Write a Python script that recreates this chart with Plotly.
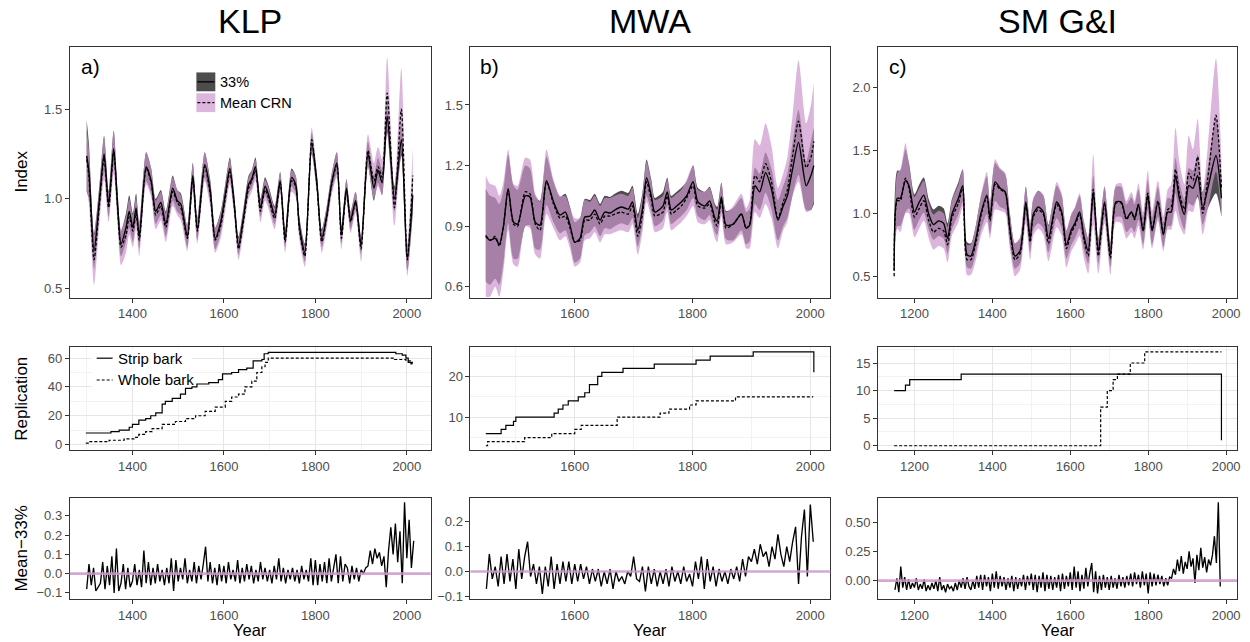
import plotly.graph_objects as go

# ---------------- DATA ----------------
# Panel a (KLP) smoothed index
ya = [1300,1305,1316,1328,1338,1348,1359,1368,1375,1386,
      1393,1401,1408,1415,1430,1441,1451,1462,1473,1488,
      1498,1506,1520,1532,1542,1558,1570,1581,1593,1604,
      1613,1622,1632,1643,1654,1661,1669,1680,1690,1698,
      1711,1723,1734,1748,1757,1765,1777,1792,1803,1814,
      1825,1835,1847,1857,1868,1877,1888,1900,1915,1928,
      1937,1946,1957,1973,1988,2001,2013]
a33 = [1.24,1.15,0.71,1.00,1.25,0.97,1.28,0.95,0.75,0.84,
       0.93,0.84,0.95,0.79,1.18,1.10,0.93,0.98,0.86,1.06,
       0.99,0.97,0.79,1.13,0.83,1.19,1.05,0.78,0.87,1.04,
       1.17,0.99,0.74,0.90,1.08,1.11,1.18,0.95,1.07,1.02,
       0.91,1.10,0.78,1.12,1.08,0.85,0.70,1.31,1.10,0.78,
       0.91,1.08,1.20,0.80,1.06,0.88,0.99,0.74,1.25,1.06,
       1.16,1.09,1.46,1.00,1.33,0.67,1.02]
amean = [1.22,1.12,0.66,0.97,1.23,0.95,1.26,0.93,0.73,0.80,
         0.90,0.82,0.92,0.77,1.17,1.09,0.91,0.96,0.84,1.04,
         0.98,0.95,0.78,1.12,0.82,1.18,1.03,0.77,0.85,1.02,
         1.15,0.98,0.72,0.88,1.06,1.10,1.16,0.93,1.05,1.00,
         0.89,1.09,0.76,1.10,1.07,0.83,0.68,1.33,1.09,0.76,
         0.90,1.07,1.19,0.78,1.05,0.87,0.98,0.72,1.27,1.10,
         1.18,1.12,1.59,0.95,1.50,0.66,1.13]
aw33 = [0.20,0.15,0.10,0.08,0.10,0.07,0.10,0.07,0.07,0.08,
        0.09,0.08,0.08,0.07,0.08,0.07,0.07,0.07,0.07,0.07,
        0.06,0.06,0.06,0.07,0.06,0.07,0.06,0.06,0.06,0.06,
        0.06,0.05,0.05,0.05,0.05,0.05,0.05,0.05,0.05,0.05,
        0.05,0.05,0.05,0.05,0.05,0.05,0.05,0.06,0.05,0.05,
        0.05,0.05,0.06,0.05,0.05,0.05,0.05,0.05,0.07,0.07,
        0.07,0.07,0.09,0.07,0.09,0.07,0.10]
awM = [0.17,0.15,0.14,0.10,0.12,0.08,0.12,0.09,0.10,0.10,
       0.10,0.09,0.09,0.09,0.09,0.08,0.08,0.08,0.08,0.08,
       0.07,0.07,0.07,0.08,0.07,0.08,0.07,0.07,0.07,0.07,
       0.07,0.06,0.06,0.06,0.06,0.06,0.06,0.06,0.06,0.06,
       0.06,0.06,0.06,0.06,0.06,0.06,0.06,0.07,0.06,0.06,
       0.06,0.06,0.07,0.06,0.06,0.06,0.06,0.07,0.09,0.10,
       0.11,0.10,0.20,0.10,0.23,0.09,0.16]

# Panel b (MWA)
yb = [1449,1456,1465,1472,1479,1487,1496,1503,1516,1524,
      1533,1541,1552,1564,1575,1584,1592,1600,1609,1617,
      1626,1634,1643,1651,1660,1668,1679,1691,1698,1707,
      1715,1722,1730,1736,1745,1750,1757,1764,1773,1781,
      1790,1801,1809,1821,1829,1838,1842,1849,1857,1869,
      1883,1891,1897,1906,1914,1924,1934,1945,1954,1961,
      1970,1980,1993,2001,2006]
b33 = [0.855,0.83,0.84,0.81,0.90,1.085,0.92,0.91,1.05,1.045,
       0.92,0.905,1.125,1.02,0.955,0.97,0.905,0.82,0.84,0.945,
       0.95,0.98,0.93,0.97,0.965,0.98,0.995,0.985,1.02,0.88,
       0.985,1.14,1.05,0.97,0.985,1.00,1.07,0.98,1.00,1.02,
       1.05,1.12,1.02,1.00,1.025,0.94,0.925,1.045,0.905,0.91,
       0.96,0.89,0.905,1.10,1.07,1.165,1.085,0.93,1.00,1.05,
       1.185,1.315,1.10,1.15,1.20]
bmean = [0.85,0.83,0.85,0.80,0.90,1.08,0.91,0.90,1.07,1.06,
         0.91,0.88,1.12,1.01,0.94,0.95,0.89,0.82,0.83,0.93,
         0.93,0.96,0.91,0.95,0.95,0.96,0.97,0.96,1.00,0.85,
         0.96,1.12,1.03,0.95,0.96,0.97,1.05,0.96,0.98,1.00,
         1.04,1.10,1.00,0.99,1.01,0.92,0.90,1.03,0.89,0.91,
         0.96,0.89,0.91,1.15,1.12,1.21,1.12,0.94,1.02,1.08,
         1.25,1.42,1.19,1.24,1.32]
bw33 = [0.23,0.22,0.20,0.20,0.18,0.17,0.18,0.17,0.15,0.14,
        0.13,0.12,0.12,0.10,0.09,0.09,0.09,0.10,0.10,0.09,
        0.08,0.08,0.08,0.08,0.08,0.08,0.08,0.08,0.08,0.08,
        0.08,0.09,0.08,0.07,0.07,0.07,0.07,0.07,0.07,0.07,
        0.07,0.08,0.07,0.07,0.07,0.07,0.07,0.07,0.07,0.08,
        0.08,0.08,0.08,0.09,0.09,0.10,0.10,0.10,0.10,0.11,
        0.13,0.16,0.12,0.17,0.19]
bwM = [0.30,0.28,0.25,0.25,0.22,0.20,0.20,0.20,0.17,0.17,
       0.15,0.14,0.16,0.12,0.11,0.10,0.10,0.12,0.11,0.10,
       0.09,0.09,0.09,0.09,0.09,0.09,0.09,0.09,0.09,0.09,
       0.09,0.10,0.09,0.08,0.08,0.08,0.08,0.08,0.08,0.08,
       0.09,0.10,0.08,0.08,0.08,0.08,0.08,0.08,0.08,0.09,
       0.10,0.10,0.12,0.18,0.18,0.20,0.18,0.15,0.14,0.16,
       0.20,0.30,0.22,0.26,0.29]

# Panel c (SM G&I)
yc = [1148,1156,1164,1177,1186,1200,1211,1224,1237,1249,
      1262,1275,1285,1296,1313,1324,1335,1345,1358,1370,
      1386,1394,1407,1420,1433,1445,1458,1471,1486,1497,
      1505,1518,1531,1544,1565,1578,1590,1603,1612,1624,
      1635,1646,1659,1672,1688,1703,1717,1731,1744,1757,
      1765,1775,1787,1799,1810,1825,1839,1850,1859,1870,
      1880,1893,1904,1915,1927,1940,1953,1974,1988]
c33 = [0.55,1.12,1.12,1.26,1.22,1.01,1.08,1.145,0.99,0.91,
       0.94,0.92,0.80,0.99,1.12,1.22,0.67,0.66,0.80,0.99,
       1.145,0.96,1.25,1.20,1.17,0.88,0.66,0.70,1.09,0.80,
       0.99,1.05,1.01,0.80,1.09,1.01,0.75,0.87,0.92,1.01,
       0.82,0.70,1.17,0.70,1.09,0.67,1.09,1.09,0.96,1.01,
       0.96,1.07,0.86,1.145,0.86,1.09,0.83,1.01,1.01,1.30,
       1.12,0.99,1.22,1.20,1.30,1.04,1.20,1.46,1.12]
cmean = [0.50,1.10,1.10,1.28,1.20,0.97,1.03,1.10,0.94,0.85,
         0.88,0.86,0.75,0.96,1.08,1.20,0.63,0.63,0.77,0.97,
         1.13,0.94,1.23,1.19,1.16,0.86,0.63,0.68,1.07,0.77,
         0.97,1.03,0.99,0.76,1.07,0.99,0.72,0.85,0.90,0.99,
         0.79,0.66,1.19,0.66,1.07,0.64,1.08,1.08,0.95,1.01,
         0.95,1.07,0.86,1.16,0.87,1.10,0.84,1.03,1.05,1.35,
         1.16,1.03,1.32,1.26,1.45,1.00,1.28,1.78,1.20]
cw33 = [0.05,0.22,0.22,0.25,0.18,0.14,0.14,0.14,0.12,0.12,
        0.12,0.12,0.12,0.12,0.13,0.13,0.10,0.10,0.11,0.13,
        0.15,0.12,0.15,0.15,0.14,0.12,0.10,0.10,0.12,0.11,
        0.12,0.13,0.13,0.11,0.13,0.13,0.11,0.12,0.12,0.13,
        0.11,0.10,0.13,0.10,0.12,0.10,0.12,0.12,0.11,0.12,
        0.11,0.12,0.11,0.12,0.11,0.12,0.10,0.11,0.11,0.14,
        0.13,0.12,0.14,0.14,0.17,0.13,0.16,0.30,0.15]
cwM = [0.05,0.22,0.25,0.28,0.20,0.16,0.16,0.16,0.14,0.14,
       0.14,0.14,0.14,0.14,0.15,0.15,0.12,0.12,0.14,0.16,
       0.20,0.14,0.20,0.17,0.16,0.14,0.13,0.13,0.15,0.14,
       0.15,0.15,0.16,0.14,0.18,0.17,0.15,0.15,0.15,0.17,
       0.15,0.14,0.28,0.14,0.15,0.13,0.15,0.16,0.15,0.16,
       0.15,0.17,0.15,0.18,0.15,0.16,0.14,0.16,0.18,0.33,
       0.25,0.20,0.30,0.25,0.30,0.17,0.25,0.45,0.22]

# Replication (step changes)
rep_a_strip_yr = [1298,1353,1371,1393,1400,1414,1429,1440,1451,1465,1472,1487,1505,1516,1530,1541,1567,1588,1597,1617,1632,1650,1664,1683,1688,1697,1940,1976,1990,1998,2003,2012]
rep_a_strip = [8,9,10,12,14,17,18,20,22,28,30,32,35,39,40,42,43,45,49,50,52,53,58,59,63,64,64,63,62,60,57,56]
rep_a_whole_yr = [1298,1305,1349,1382,1407,1414,1429,1443,1465,1494,1516,1538,1559,1581,1603,1617,1632,1646,1661,1672,1683,1690,1697,1973,1998,2009,2012]
rep_a_whole = [1,2,3,4,5,7,9,11,14,16,18,20,23,26,30,33,35,40,44,50,54,57,60,59,58,56,56]
rep_b_strip_yr = [1449,1475,1483,1496,1500,1565,1572,1580,1589,1606,1617,1625,1639,1646,1682,1735,1806,1830,1903,2005,2006]
rep_b_strip = [6,7,8,9,10,11,12,13,14,15,16,18,20,21,22,23,24,25,26,26,21]
rep_b_whole_yr = [1449,1452,1515,1561,1600,1611,1672,1745,1760,1795,1806,1873,2005]
rep_b_whole = [3,4,5,6,7,8,10,11,12,13,14,15,15]
rep_c_strip_yr = [1148,1177,1188,1320,1983,1988]
rep_c_strip = [10,11,12,13,13,1]
rep_c_whole_yr = [1148,1678,1695,1710,1721,1754,1791,1988]
rep_c_whole = [0,7,10,12,13,15,17,17]

# Mean - 33% differences (every 5 years)
da_start, db_start, dc_start = 1300, 1450, 1150
da = [-0.08,0.05,-0.06,0.03,-0.09,-0.07,-0.05,0.06,-0.08,0.04,
      -0.06,0.09,-0.10,0.13,-0.09,-0.05,0.05,-0.08,0.03,-0.07,
      -0.04,0.05,-0.06,0.02,-0.07,0.12,-0.05,0.06,-0.06,0.03,
      -0.05,0.05,-0.04,0.02,-0.06,0.03,-0.05,0.08,-0.09,0.07,
      -0.04,0.03,-0.03,0.08,-0.05,0.02,-0.04,0.06,-0.05,0.04,
      -0.03,0.05,0.14,-0.04,0.06,-0.05,0.03,-0.06,0.05,-0.04,
      0.04,-0.05,0.06,-0.03,0.02,-0.04,0.07,-0.05,0.03,-0.04,
      0.05,-0.03,0.04,-0.05,0.02,-0.04,0.06,-0.03,0.03,-0.04,
      0.02,-0.05,0.04,-0.03,0.08,-0.04,0.03,-0.05,0.02,-0.03,
      0.03,-0.04,0.02,-0.05,0.04,-0.03,0.02,-0.04,0.08,-0.06,
      0.07,-0.06,0.05,-0.04,0.06,-0.05,0.08,-0.04,0.03,0.10,
      -0.05,0.09,-0.04,0.05,0.03,-0.05,0.04,-0.03,0.03,-0.04,
      0.02,0.00,0.03,0.04,0.12,0.05,0.13,0.08,0.11,0.04,
      0.09,-0.07,0.12,0.24,0.10,0.26,0.06,0.22,-0.05,0.37,
      0.08,0.28,0.03,0.17]
db = [-0.07,0.07,-0.03,0.02,-0.06,0.06,-0.05,0.07,-0.04,0.05,
      -0.07,0.09,-0.03,0.06,0.12,-0.02,0.03,-0.05,0.02,-0.09,
      0.02,-0.06,0.06,-0.07,0.03,-0.05,0.04,-0.04,0.04,-0.05,
      0.03,-0.04,0.03,-0.03,0.02,-0.05,0.01,-0.04,0.01,-0.06,
      0.00,-0.05,0.01,-0.07,0.00,-0.04,-0.02,-0.05,0.00,-0.02,
      0.06,-0.03,-0.04,0.02,-0.08,0.02,-0.05,0.01,-0.06,0.00,
      -0.05,0.01,-0.06,0.02,-0.04,0.00,-0.05,0.02,-0.04,-0.01,
      -0.06,0.04,-0.03,0.06,-0.07,0.05,-0.04,0.02,-0.06,0.01,
      -0.04,0.00,-0.05,0.01,-0.03,0.02,-0.04,0.05,-0.02,0.06,
      0.04,0.09,0.03,0.11,0.06,0.08,0.02,0.10,0.05,0.15,
      0.07,0.02,0.10,0.04,0.12,0.18,-0.05,0.14,0.25,-0.02,
      0.27,0.12]
dc = [-0.08,0.02,-0.10,0.12,-0.06,0.03,-0.08,0.01,-0.07,-0.02,
      -0.06,0.02,-0.08,-0.03,-0.07,0.01,-0.09,-0.04,-0.08,-0.02,
      -0.07,0.00,-0.09,0.03,-0.08,-0.04,-0.10,-0.03,-0.07,-0.05,
      -0.09,-0.02,-0.08,0.00,-0.06,0.02,-0.07,0.03,-0.05,-0.08,
      0.00,-0.07,0.04,-0.06,0.05,-0.08,0.05,-0.05,0.03,-0.09,
      0.06,-0.06,0.08,-0.07,0.04,-0.05,0.03,-0.08,0.02,-0.06,
      0.04,-0.09,0.03,-0.07,0.02,-0.05,0.05,-0.08,0.04,-0.04,
      0.06,-0.08,0.05,-0.10,0.04,-0.06,0.07,-0.09,0.05,-0.07,
      0.04,-0.08,0.03,-0.06,0.05,-0.09,0.06,-0.07,0.04,-0.05,
      0.07,-0.08,0.12,-0.06,0.08,-0.09,0.05,-0.07,0.11,-0.05,
      0.06,0.15,-0.10,0.08,-0.11,0.04,-0.08,0.05,-0.06,0.03,
      -0.08,0.04,-0.06,0.02,-0.07,0.05,-0.05,0.03,-0.06,0.04,
      -0.04,0.06,-0.05,0.07,-0.03,0.05,-0.06,0.08,-0.04,0.06,
      -0.11,0.07,-0.05,0.06,-0.04,0.05,-0.03,0.04,-0.05,0.02,
      -0.04,0.03,0.02,0.10,0.05,0.18,0.08,0.21,0.06,0.16,
      0.10,0.25,0.12,0.19,-0.02,0.22,0.09,0.28,0.11,0.20,
      0.07,0.18,0.13,0.22,0.38,0.15,0.67,-0.05]

titles = ["KLP", "MWA", "SM G&I"]
letters = ["a)", "b)", "c)"]

# ---------------- STYLE ----------------
W, H = 1250, 642
FONT = "Liberation Sans, Arial, Helvetica, sans-serif"
GRAY = "#4d4d4d"
PINK = "rgba(205,150,205,0.7)"
PINK_KEY = "#dcb6dc"
ZLINE = "rgba(205,150,205,0.85)"
BORDER = "#333333"

xdom = [(70/W, 432/W), (472/W, 833/W), (881/W, 1241/W)]
ydom = [(1-300/H, 1-47/H), (1-454/H, 1-350/H), (1-604/H, 1-502/H)]
xranges = [[1263, 2052], [1423, 2034], [1107, 2028]]
xticks = [[1400, 1600, 1800, 2000], [1600, 1800, 2000], [1200, 1400, 1600, 1800, 2000]]
xminor = [[1300, 1500, 1700, 1900], [1500, 1700, 1900], [1100, 1300, 1500, 1700, 1900]]
yranges = [[[0.449, 1.849], [0.546, 1.789], [0.329, 2.326]],
           [[-4.1, 67.5], [1.85, 27.15], [-0.85, 17.85]],
           [[-0.133, 0.392], [-0.112, 0.296], [-0.16, 0.706]]]
yticks = [[([0.5, 1.0, 1.5], ["0.5", "1.0", "1.5"]),
           ([0.6, 0.9, 1.2, 1.5], ["0.6", "0.9", "1.2", "1.5"]),
           ([0.5, 1.0, 1.5, 2.0], ["0.5", "1.0", "1.5", "2.0"])],
          [([0, 20, 40, 60], ["0", "20", "40", "60"]),
           ([10, 20], ["10", "20"]),
           ([0, 5, 10, 15], ["0", "5", "10", "15"])],
          [([-0.1, 0, 0.1, 0.2, 0.3], ["\u22120.1", "0.0", "0.1", "0.2", "0.3"]),
           ([-0.1, 0, 0.1, 0.2], ["\u22120.1", "0.0", "0.1", "0.2"]),
           ([0, 0.25, 0.5], ["0.00", "0.25", "0.50"])]]
yminor = [[10, 30, 50], [5, 15, 25], [2.5, 7.5, 12.5, 17.5]]

fig = go.Figure()

def names(r, c):
    i = r * 3 + c + 1
    return ("x" if i == 1 else f"x{i}"), ("y" if i == 1 else f"y{i}"), i

def add_ribbon(xa, yax, yrs, ctr, hw, color):
    lo = [m - w for m, w in zip(ctr, hw)]
    hi = [m + w for m, w in zip(ctr, hw)]
    fig.add_trace(go.Scatter(x=yrs, y=lo, xaxis=xa, yaxis=yax, mode="lines",
                             line=dict(width=0, shape="spline", smoothing=0.7),
                             showlegend=False, hoverinfo="skip"))
    fig.add_trace(go.Scatter(x=yrs, y=hi, xaxis=xa, yaxis=yax, mode="lines",
                             line=dict(width=0, shape="spline", smoothing=0.7),
                             fill="tonexty", fillcolor=color,
                             showlegend=False, hoverinfo="skip"))

top = [(ya, a33, amean, aw33, awM), (yb, b33, bmean, bw33, bwM), (yc, c33, cmean, cw33, cwM)]
for c, (yrs, s33, mn, w33, wM) in enumerate(top):
    xa, yax, _ = names(0, c)
    add_ribbon(xa, yax, yrs, s33, w33, GRAY)
    add_ribbon(xa, yax, yrs, mn, wM, PINK)
    fig.add_trace(go.Scatter(x=yrs, y=mn, xaxis=xa, yaxis=yax, mode="lines",
                             line=dict(color="black", width=1.3, dash="3px,2px",
                                       shape="spline", smoothing=0.7),
                             showlegend=False))
    fig.add_trace(go.Scatter(x=yrs, y=s33, xaxis=xa, yaxis=yax, mode="lines",
                             line=dict(color="black", width=1.4, shape="spline", smoothing=0.7),
                             showlegend=False))

reps = [(rep_a_strip_yr, rep_a_strip, rep_a_whole_yr, rep_a_whole),
        (rep_b_strip_yr, rep_b_strip, rep_b_whole_yr, rep_b_whole),
        (rep_c_strip_yr, rep_c_strip, rep_c_whole_yr, rep_c_whole)]
for c, (sx, sy, wx, wy) in enumerate(reps):
    xa, yax, _ = names(1, c)
    fig.add_trace(go.Scatter(x=wx, y=wy, xaxis=xa, yaxis=yax, mode="lines",
                             line=dict(color="black", width=1.2, dash="3px,2px", shape="hv"),
                             showlegend=False))
    fig.add_trace(go.Scatter(x=sx, y=sy, xaxis=xa, yaxis=yax, mode="lines",
                             line=dict(color="black", width=1.2, shape="hv"),
                             showlegend=False))

diffs = [(da_start, da), (db_start, db), (dc_start, dc)]
for c, (start, vals) in enumerate(diffs):
    xa, yax, _ = names(2, c)
    yrs = list(range(start, start + 5 * len(vals), 5))
    fig.add_trace(go.Scatter(x=yrs, y=vals, xaxis=xa, yaxis=yax, mode="lines",
                             line=dict(color="black", width=1.35), showlegend=False))

layout = dict(width=W, height=H, margin=dict(l=0, r=0, t=0, b=0),
              paper_bgcolor="white", plot_bgcolor="white", showlegend=False,
              font=dict(family=FONT, color="black"))
shapes = []
for r in range(3):
    for c in range(3):
        xa, yax, i = names(r, c)
        key = "" if i == 1 else str(i)
        grid = (r == 1)
        xd = dict(domain=list(xdom[c]), anchor=yax, range=xranges[c],
                  tickvals=xticks[c], ticktext=[str(v) for v in xticks[c]],
                  showline=True, mirror=True, linecolor=BORDER, linewidth=1,
                  ticks="outside", ticklen=4, tickcolor=BORDER,
                  tickfont=dict(family=FONT, size=13, color="#4d4d4d"),
                  showgrid=grid, gridcolor="#e6e6e6", gridwidth=1, zeroline=False)
        if grid:
            xd["minor"] = dict(tickvals=xminor[c], showgrid=True, gridcolor="#f2f2f2", ticks="")
        tv, tt = yticks[r][c]
        yd = dict(domain=list(ydom[r]), anchor=xa, range=yranges[r][c],
                  tickvals=tv, ticktext=tt,
                  showline=True, mirror=True, linecolor=BORDER, linewidth=1,
                  ticks="outside", ticklen=4, tickcolor=BORDER,
                  tickfont=dict(family=FONT, size=13, color="#4d4d4d"),
                  showgrid=grid, gridcolor="#e6e6e6", gridwidth=1, zeroline=False)
        if grid:
            yd["minor"] = dict(tickvals=yminor[c], showgrid=True, gridcolor="#f2f2f2", ticks="")
        layout["xaxis" + key] = xd
        layout["yaxis" + key] = yd
        if r == 2:
            shapes.append(dict(type="line", xref=f"{xa} domain", x0=0, x1=1,
                               yref=yax, y0=0, y1=0,
                               line=dict(color=ZLINE, width=2.6), layer="above"))

def px(x):
    return x / W

def py(y):
    return 1 - y / H

annotations = []
centers = [251, 652.5, 1061]
letter_x = [79, 480, 890]
for c in range(3):
    annotations.append(dict(text=titles[c], x=px(centers[c]), y=py(21), xref="paper", yref="paper",
                            showarrow=False, xanchor="center", yanchor="middle",
                            font=dict(family=FONT, size=34, color="black")))
    annotations.append(dict(text=letters[c], x=px(letter_x[c]), y=py(67), xref="paper", yref="paper",
                            showarrow=False, xanchor="left", yanchor="middle",
                            font=dict(family=FONT, size=21, color="black")))
    annotations.append(dict(text="Year", x=px(centers[c]), y=py(635), xref="paper", yref="paper",
                            showarrow=False, xanchor="center", yanchor="middle",
                            font=dict(family=FONT, size=16.5, color="black")))
for txt, yc_ in [("Index", 173), ("Replication", 402), ("Mean\u221233%", 553)]:
    annotations.append(dict(text=txt, x=px(22), y=py(yc_), xref="paper", yref="paper",
                            showarrow=False, textangle=-90, xanchor="center", yanchor="middle",
                            font=dict(family=FONT, size=17, color="black")))

# legend for top-left panel
shapes += [
    dict(type="rect", xref="paper", yref="paper", x0=px(197), x1=px(216), y0=py(92), y1=py(73),
         fillcolor=GRAY, line=dict(width=0), layer="above"),
    dict(type="line", xref="paper", yref="paper", x0=px(198), x1=px(215), y0=py(82.5), y1=py(82.5),
         line=dict(color="black", width=1.3), layer="above"),
    dict(type="rect", xref="paper", yref="paper", x0=px(197), x1=px(216), y0=py(113), y1=py(94),
         fillcolor=PINK_KEY, line=dict(width=0), layer="above"),
    dict(type="line", xref="paper", yref="paper", x0=px(198), x1=px(215), y0=py(103.5), y1=py(103.5),
         line=dict(color="black", width=1.3, dash="3px,2px"), layer="above"),
    # legend for replication panel
    dict(type="rect", xref="paper", yref="paper", x0=px(92), x1=px(192), y0=py(390), y1=py(352),
         fillcolor="white", line=dict(width=0), layer="above"),
    dict(type="line", xref="paper", yref="paper", x0=px(97), x1=px(113), y0=py(361), y1=py(361),
         line=dict(color="black", width=1.2), layer="above"),
    dict(type="line", xref="paper", yref="paper", x0=px(97), x1=px(113), y0=py(383), y1=py(383),
         line=dict(color="black", width=1.2, dash="3px,2px"), layer="above"),
]
for txt, x, y, s in [("33%", 219, 82.5, 14.5), ("Mean CRN", 219, 103.5, 14.5),
                     ("Strip bark", 116, 361, 15), ("Whole bark", 116, 382, 15)]:
    annotations.append(dict(text=txt, x=px(x), y=py(y), xref="paper", yref="paper",
                            showarrow=False, xanchor="left", yanchor="middle",
                            font=dict(family=FONT, size=s, color="black")))

layout["shapes"] = shapes
layout["annotations"] = annotations
fig.update_layout(**layout)
fig.write_html("out.html")
